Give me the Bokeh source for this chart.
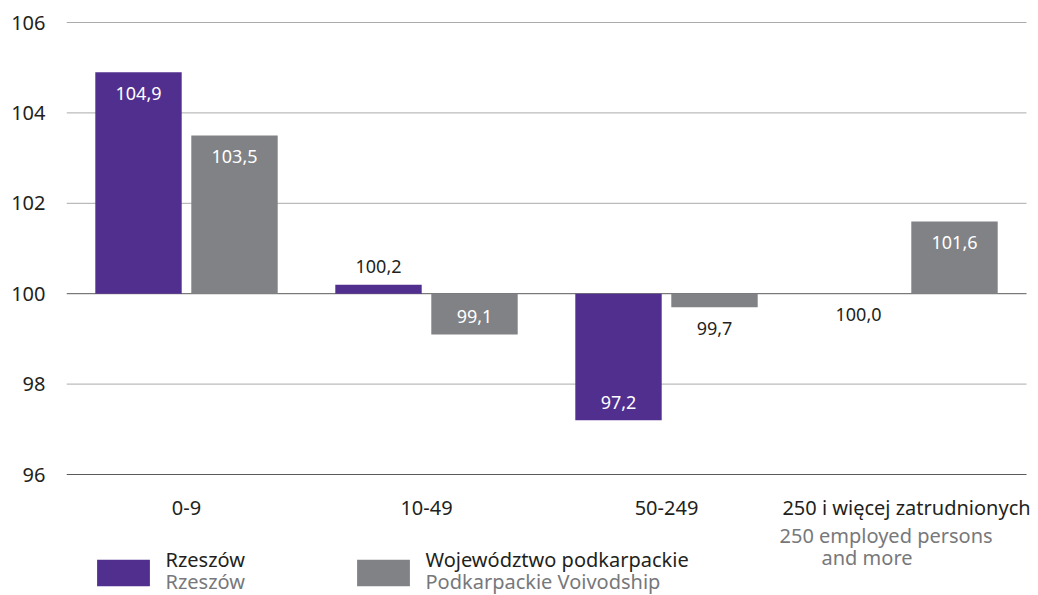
from bokeh.plotting import figure
from bokeh.models import (ColumnDataSource, Range1d, FixedTicker,
                          Legend, LegendItem)
from bokeh.core.properties import value
from bokeh.embed import file_html
from bokeh.resources import INLINE

categories = ["0-9", "10-49", "50-249", "250 i więcej zatrudnionych"]
category_en = ["", "", "", "250 employed persons\nand more"]
series_pl = ["Rzeszów", "Województwo podkarpackie"]
series_en = ["Rzeszów", "Podkarpackie Voivodship"]
rzeszow = [104.9, 100.2, 97.2, 100.0]
podkarpackie = [103.5, 99.1, 99.7, 101.6]
y_ticks = [96, 98, 100, 102, 104, 106]
base = 100

PURPLE = "#512f8f"
GREY = "#818285"
TXT = "#231f20"
SUB = "#77787b"
FONT = "Noto Sans"

PX = 45.2                      # pixels per unit of the value axis
Y0 = 96 - 121 / PX             # room below the axis for labels and legend
Y1 = 106 + 2 / PX
NC = len(categories)
X1 = NC + 12 / 240             # a little room on the right for the long label

p = figure(width=1038, height=595, output_backend="svg", toolbar_location=None,
           x_range=Range1d(0, X1), y_range=Range1d(Y0, Y1),
           x_axis_location=None,
           min_border_left=66, min_border_right=0, min_border_top=20,
           min_border_bottom=0)
p.outline_line_color = None
p.background_fill_color = "white"
p.grid.visible = False

# y axis
p.yaxis.ticker = FixedTicker(ticks=y_ticks)
p.yaxis.axis_line_color = None
p.yaxis.major_tick_line_color = None
p.yaxis.major_tick_out = 0
p.yaxis.major_tick_in = 0
p.yaxis.minor_tick_line_color = None
p.yaxis.major_label_standoff = 21
p.yaxis.major_label_text_font = FONT
p.yaxis.major_label_text_font_size = "20px"
p.yaxis.major_label_text_color = TXT

# horizontal grid lines across the category span
grid_src = ColumnDataSource(dict(
    x0=[0] * len(y_ticks), x1=[NC] * len(y_ticks), y=y_ticks,
    col=["#5a5a5a" if t in (y_ticks[0], base) else "#ababab" for t in y_ticks],
))
p.segment(x0="x0", y0="y", x1="x1", y1="y", source=grid_src,
          line_color="col", line_width=1)

centers = [i + 0.5 for i in range(NC)]

renderers = []
for k, (vals, color) in enumerate([(rzeszow, PURPLE), (podkarpackie, GREY)]):
    off = -0.2 if k == 0 else 0.2
    xs = [c + off for c in centers]
    inside = [abs(v - base) >= 0.9 for v in vals]
    yoff = []
    for v, ins in zip(vals, inside):
        if v > base:
            yoff.append(21 if ins else -18)
        else:
            yoff.append(-18 if ins else 21)
    src = ColumnDataSource(dict(
        x=xs, top=vals, bottom=[base] * len(vals),
        lab=[f"{v:.1f}".replace(".", ",") for v in vals],
        tcol=["white" if ins else TXT for ins in inside],
        yoff=yoff,
    ))
    r = p.vbar(x="x", top="top", bottom="bottom", width=0.36, source=src,
               fill_color=color, line_color=None)
    renderers.append(r)
    p.text(x="x", y="top", text="lab", source=src, y_offset="yoff",
           text_align="center", text_baseline="middle", text_color="tcol",
           text_font=value(FONT), text_font_size="18px")

# category labels (Polish, black)
cat_src = ColumnDataSource(dict(x=centers, y=[y_ticks[0]] * NC, t=categories))
p.text(x="x", y="y", text="t", source=cat_src, y_offset=33,
       text_align="center", text_baseline="middle", text_color=TXT,
       text_font=value(FONT), text_font_size="20px")

# English sub-labels (grey)
for c, en in zip(centers, category_en):
    if not en:
        continue
    lines = en.split("\n")
    p.text(x=[c], y=[y_ticks[0]], text=[lines[0]], x_offset=-127, y_offset=61,
           text_align="left", text_baseline="middle", text_color=SUB,
           text_font=value(FONT), text_font_size="20px")
    p.text(x=[c], y=[y_ticks[0]], text=[lines[1]], x_offset=-85, y_offset=83,
           text_align="left", text_baseline="middle", text_color=SUB,
           text_font=value(FONT), text_font_size="20px")

# Legends: swatch, Polish label in black, English label in grey beneath
GW, GH = 66, 33
for k, (r, pl, en) in enumerate(zip(renderers, series_pl, series_en)):
    sx = 31 if k == 0 else 291
    leg = Legend(items=[LegendItem(label=value(""), renderers=[r])],
                 location=(sx - 0.1 * GW, 6), padding=0, margin=0,
                 glyph_width=GW, glyph_height=GH, label_standoff=0,
                 label_height=GH, label_width=0,
                 border_line_color=None, background_fill_alpha=0)
    p.add_layout(leg)
    p.text(x=[0], y=[Y0], text=[pl], x_offset=sx + 68, y_offset=-36,
           text_align="left", text_baseline="middle", text_color=TXT,
           text_font=value(FONT), text_font_size="20px")
    p.text(x=[0], y=[Y0], text=[en], x_offset=sx + 68, y_offset=-14,
           text_align="left", text_baseline="middle", text_color=SUB,
           text_font=value(FONT), text_font_size="20px")

open("out.html", "w").write(file_html(p, INLINE))
